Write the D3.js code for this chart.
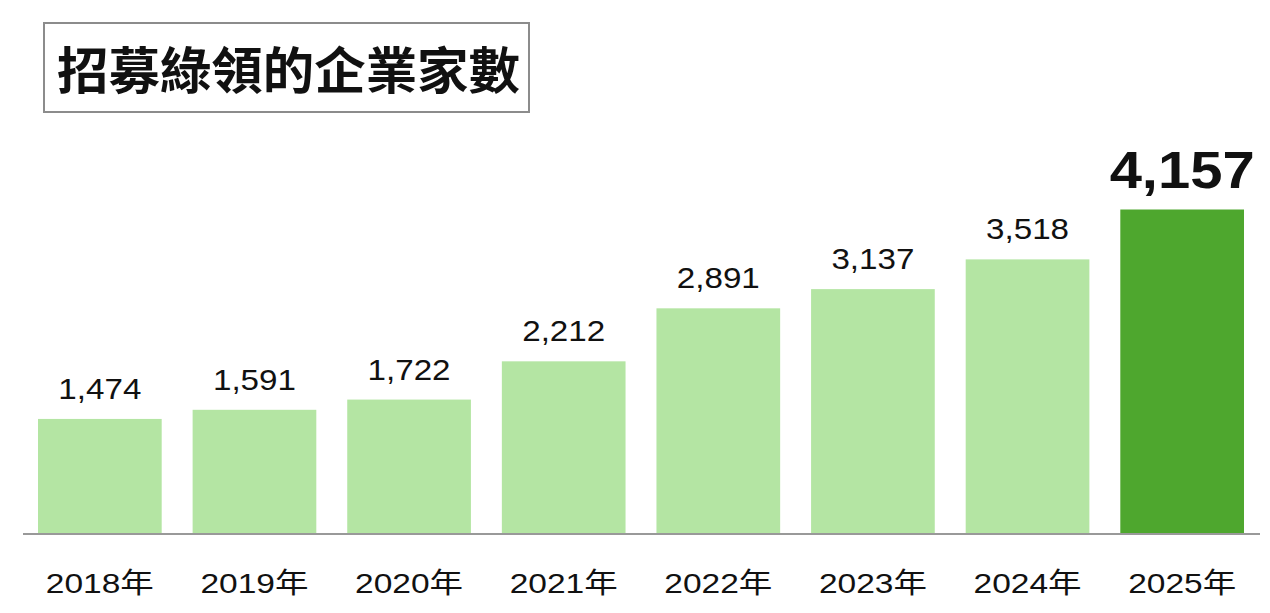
<!DOCTYPE html>
<html>
<head>
<meta charset="utf-8">
<script src="https://cdn.jsdelivr.net/npm/d3@7"></script>
<style>
  body { margin: 0; background: #fff; }
  text { font-family: "Liberation Sans", Arial, "Noto Sans CJK TC", sans-serif; }
</style>
</head>
<body>
<script>
/* Data */
var years = ["2018年", "2019年", "2020年", "2021年", "2022年", "2023年", "2024年", "2025年"],
	companies = [1474, 1591, 1722, 2212, 2891, 3137, 3518, 4157],
	title = "招募綠領的企業家數";

/* Display setup */
var width = 1270, height = 613,
	plot = {left: 23, right: 1260, base: 534, top: 209.5},
	svg = d3.select("body").append("svg")
		.attr("width", width)
		.attr("height", height);

// first bar starts at 38, last ends at 1244
var x = d3.scaleBand()
	.domain(years)
	.range([38, 1244])
	.paddingInner(0.2)
	.paddingOuter(0);

var y = d3.scaleLinear()
	.domain([0, d3.max(companies)])
	.range([plot.base, plot.top]);

/* Title box */
svg.append("rect")
	.attr("x", 44)
	.attr("y", 23)
	.attr("width", 485)
	.attr("height", 89)
	.style("fill", "white")
	.style("stroke", "#8c8c8c")
	.style("stroke-width", 2);

svg.append("text")
	.attr("x", 57)
	.attr("y", 67)
	.attr("dominant-baseline", "central")
	.attr("textLength", 463)
	.attr("lengthAdjust", "spacingAndGlyphs")
	.style("font-family", "'Noto Sans CJK TC', sans-serif")
	.style("font-size", "50px")
	.style("font-weight", "600")
	.style("fill", "#111")
	.text(title);

/* Bars */
var last = years.length - 1;

svg.selectAll("rect.bar")
	.data(companies)
	.enter().append("rect")
		.attr("class", "bar")
		.attr("x", function(d, i) { return x(years[i]); })
		.attr("y", function(d) { return y(d); })
		.attr("width", x.bandwidth())
		.attr("height", function(d) { return plot.base - y(d); })
		.style("fill", function(d, i) { return i == last ? "#4ea72e" : "#b4e5a3"; });

/* Axis line */
svg.append("line")
	.attr("x1", plot.left)
	.attr("x2", plot.right)
	.attr("y1", plot.base)
	.attr("y2", plot.base)
	.style("stroke", "#999")
	.style("stroke-width", 2);

/* Value labels */
var fmt = d3.format(",");
svg.selectAll("text.value")
	.data(companies)
	.enter().append("text")
		.attr("class", "value")
		.attr("x", function(d, i) { return x(years[i]) + x.bandwidth() / 2; })
		.attr("y", function(d, i) { return y(d) - (i == last ? 22 : 20); })
		.attr("text-anchor", "middle")
		.attr("textLength", function(d, i) { return i == last ? 145 : 83; })
		.attr("lengthAdjust", "spacingAndGlyphs")
		.style("font-size", function(d, i) { return i == last ? "52px" : "30px"; })
		.style("font-weight", function(d, i) { return i == last ? "bold" : "normal"; })
		.style("fill", "#111")
		.text(fmt);

/* Year labels */
svg.selectAll("text.year")
	.data(years)
	.enter().append("text")
		.attr("class", "year")
		.attr("x", function(d) { return x(d) + x.bandwidth() / 2; })
		.attr("y", 593)
		.attr("text-anchor", "middle")
		.attr("textLength", 108)
		.attr("lengthAdjust", "spacingAndGlyphs")
		.style("font-size", "28px")
		.style("fill", "#111")
		.text(function(d) { return d; });
</script>
</body>
</html>
